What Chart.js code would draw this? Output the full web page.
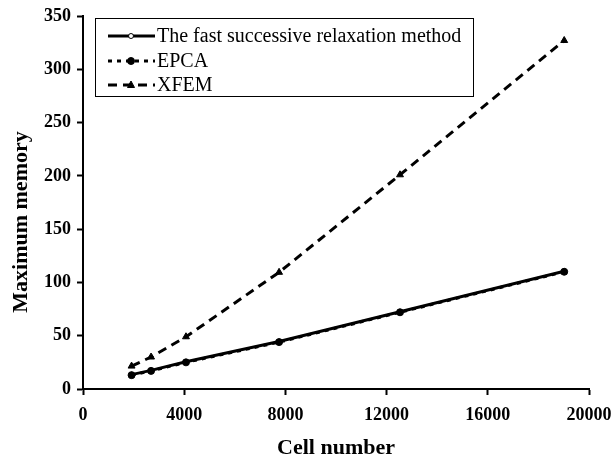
<!DOCTYPE html>
<html>
<head>
<meta charset="utf-8">
<script src="https://cdn.jsdelivr.net/npm/chart.js@4.4.0/dist/chart.umd.min.js"></script>
<style>
  html, body { margin: 0; padding: 0; background: #fff; }
  #wrap { width: 616px; height: 462px; }
</style>
</head>
<body>
<div id="wrap"><canvas id="memory-chart" width="616" height="462"></canvas></div>
<script>
const cellNumbers = [1920, 2690, 4070, 7750, 12530, 19020];
const fastMemory = [13.5, 17.5, 25.5, 44.5, 72.5, 110.5];
const epcaMemory = [13, 17, 25, 44, 72, 110];
const xfemMemory = [21.5, 30, 49, 109.5, 201, 327];
const seriesLabels = ['The fast successive relaxation method', 'EPCA', 'XFEM'];
const yTitle = 'Maximum memory';

const serif = '"Liberation Serif", "Times New Roman", serif';
const toPoints = (ys) => cellNumbers.map((x, i) => ({x: x, y: ys[i]}));

// legend box drawn inside the plot, top-left
const boxLegend = {
  id: 'boxLegend',
  afterDraw(chart) {
    const ctx = chart.ctx;
    const left = 95, top = 18, w = 378, h = 78;
    ctx.save();
    ctx.strokeStyle = '#000';
    ctx.lineWidth = 1;
    ctx.strokeRect(left + 0.5, top + 0.5, w, h);
    const rows = [36, 61, 85];
    chart.data.datasets.forEach((ds, i) => {
      const y = rows[i];
      ctx.beginPath();
      ctx.setLineDash(ds.borderDash || []);
      ctx.lineWidth = ds.borderWidth;
      ctx.strokeStyle = '#000';
      ctx.moveTo(108, y);
      ctx.lineTo(155, y);
      ctx.stroke();
      ctx.setLineDash([]);
      const mx = 131;
      ctx.beginPath();
      if (ds.pointStyle === 'triangle') {
        ctx.moveTo(mx, y - 4);
        ctx.lineTo(mx + 3.5, y + 2.5);
        ctx.lineTo(mx - 3.5, y + 2.5);
        ctx.closePath();
      } else {
        ctx.arc(mx, y, ds.pointRadius, 0, Math.PI * 2);
      }
      ctx.fillStyle = ds.pointBackgroundColor;
      ctx.fill();
      ctx.lineWidth = 1;
      ctx.stroke();
      ctx.fillStyle = '#000';
      ctx.font = '20px ' + serif;
      ctx.textBaseline = 'middle';
      ctx.fillText(ds.label, 157, y + 1);
    });
    ctx.restore();
  }
};

// y title sits a bit below the axis middle in the original
const sideTitle = {
  id: 'sideTitle',
  afterDraw(chart) {
    const ctx = chart.ctx;
    ctx.save();
    ctx.translate(21, 222);
    ctx.rotate(-Math.PI / 2);
    ctx.font = 'bold 22px ' + serif;
    ctx.fillStyle = '#000';
    ctx.textAlign = 'center';
    ctx.textBaseline = 'middle';
    ctx.fillText(yTitle, 0, 0);
    ctx.restore();
  }
};

new Chart(document.getElementById('memory-chart'), {
  type: 'line',
  data: {
    datasets: [
      {
        label: seriesLabels[0],
        data: toPoints(fastMemory),
        order: 2,
        borderColor: '#000',
        borderWidth: 3,
        pointStyle: 'circle',
        pointRadius: 2.5,
        pointBackgroundColor: '#fff',
        pointBorderColor: '#000',
        pointBorderWidth: 1,
      },
      {
        label: seriesLabels[1],
        data: toPoints(epcaMemory),
        order: 1,
        borderColor: '#000',
        borderWidth: 3,
        borderDash: [4, 5],
        pointStyle: 'circle',
        pointRadius: 3.5,
        pointBackgroundColor: '#000',
        pointBorderColor: '#000',
        pointBorderWidth: 1,
      },
      {
        label: seriesLabels[2],
        data: toPoints(xfemMemory),
        order: 0,
        borderColor: '#000',
        borderWidth: 3,
        borderDash: [9, 6],
        pointStyle: 'triangle',
        pointRadius: 4,
        pointBackgroundColor: '#000',
        pointBorderColor: '#000',
        pointBorderWidth: 1,
      },
    ],
  },
  options: {
    responsive: false,
    animation: false,
    devicePixelRatio: 1,
    layout: {
      padding: {left: 0, top: 16, right: 27, bottom: 0},
    },
    scales: {
      x: {
        type: 'linear',
        min: 0,
        max: 20000,
        afterFit: (scale) => {
          scale.height = 73;
          scale.paddingLeft = 0;
          scale.paddingRight = 0;
        },
        grid: {
          drawOnChartArea: false,
          drawTicks: true,
          tickLength: 6,
          tickWidth: 2,
          tickColor: '#000',
        },
        border: {color: '#000', width: 2},
        ticks: {
          stepSize: 4000,
          color: '#000',
          padding: 10,
          maxRotation: 0,
          font: {family: serif, size: 18, weight: 'bold'},
          callback: (v) => String(v),
        },
        title: {
          display: true,
          text: 'Cell number',
          color: '#000',
          padding: {top: 0, bottom: 0},
          font: {family: serif, size: 22, weight: 'bold'},
        },
      },
      y: {
        min: 0,
        max: 350,
        afterFit: (scale) => {
          scale.width = 83;
          scale.paddingTop = 0;
          scale.paddingBottom = 0;
        },
        grid: {
          drawOnChartArea: false,
          drawTicks: true,
          tickLength: 6,
          tickWidth: 2,
          tickColor: '#000',
        },
        border: {color: '#000', width: 2},
        ticks: {
          stepSize: 50,
          color: '#000',
          padding: 6,
          font: {family: serif, size: 18, weight: 'bold'},
        },
      },
    },
    plugins: {
      legend: {display: false},
      tooltip: {enabled: false},
    },
  },
  plugins: [boxLegend, sideTitle],
});
</script>
</body>
</html>
